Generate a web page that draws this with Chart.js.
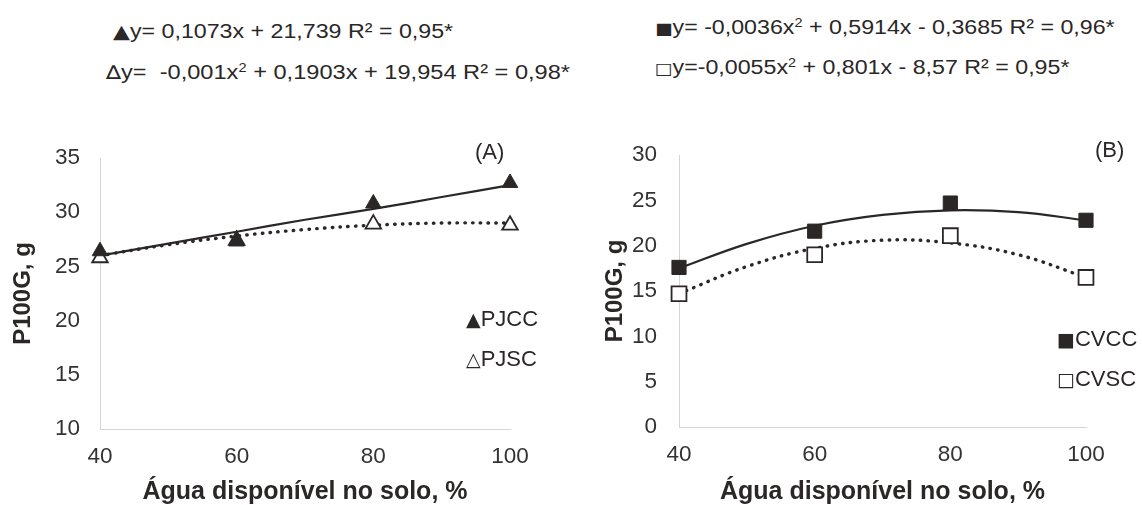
<!DOCTYPE html>
<html>
<head>
<meta charset="utf-8">
<script src="https://cdn.jsdelivr.net/npm/chart.js@4.4.0/dist/chart.umd.min.js"></script>
<style>
  body { margin: 0; background: #fff; }
  #wrap { position: relative; width: 1142px; height: 505px; overflow: hidden; background: #fff; }
  canvas { position: absolute; }
  .txt { position: absolute; font-family: "Liberation Sans", Arial, sans-serif; color: #2b2727; line-height: 1; white-space: pre; }
  .eq { font-size: 20px; transform: scaleX(1.16); transform-origin: left center; }
  .eq2 { transform: scaleX(1.18); }
  .eq sup { font-size: 0.62em; vertical-align: 0.55em; line-height: 0; }
  .leg, .panel { font-size: 22px; }
  .mk { font-family: "DejaVu Sans", sans-serif; line-height: 0; }
</style>
</head>
<body>
<div id="wrap">
  <div class="txt eq" style="left:113px; top:21px;"><span class="mk" style="font-size:19px">▲</span>y= 0,1073x + 21,739 R² = 0,95*</div>
  <div class="txt eq eq2" style="left:106px; top:62px;"><span class="mk" style="font-size:19px">∆</span>y=  -0,001x<sup>2</sup> + 0,1903x + 19,954 R² = 0,98*</div>
  <div class="txt eq" style="left:655px; top:17px;"><span class="mk" style="font-size:16px">■</span>y= -0,0036x<sup>2</sup> + 0,5914x - 0,3685 R² = 0,96*</div>
  <div class="txt eq" style="left:655px; top:57px;"><span class="mk" style="font-size:16px">□</span>y=-0,0055x<sup>2</sup> + 0,801x - 8,57 R² = 0,95*</div>

  <canvas id="chartA" width="565" height="400" style="left:0; top:105px;"></canvas>
  <canvas id="chartB" width="567" height="400" style="left:575px; top:105px;"></canvas>

  <div class="txt panel" style="left:475px; top:141px;">(A)</div>
  <div class="txt panel" style="left:1095px; top:139px;">(B)</div>

  <div class="txt leg" style="left:466px; top:308px;"><span class="mk" style="font-size:19px">▲</span>PJCC</div>
  <div class="txt leg" style="left:466px; top:348px;"><span class="mk" style="font-size:19px">△</span>PJSC</div>
  <div class="txt leg" style="left:1057px; top:328px;"><span class="mk" style="font-size:19px">■</span>CVCC</div>
  <div class="txt leg" style="left:1057px; top:368px;"><span class="mk" style="font-size:19px">□</span>CVSC</div>
</div>
<script>
// observed points
const xValues = [40, 60, 80, 100];
const pjcc = [26.4, 27.3, 30.8, 32.7];
const pjsc = [25.8, 27.4, 28.9, 28.8];
const cvcc = [17.6, 21.6, 24.7, 22.8];
const cvsc = [14.7, 19.0, 21.1, 16.5];

// fitted curves
const trendX = [40, 50, 60, 70, 80, 90, 100];
const pjccTrend = [26.0, 27.1, 28.2, 29.3, 30.3, 31.4, 32.5];
const pjscTrend = [26.0, 27.0, 27.8, 28.4, 28.8, 29.0, 29.0];
const cvccTrend = [17.5, 20.2, 22.2, 23.4, 23.9, 23.7, 22.8];
const cvscTrend = [14.7, 17.7, 19.7, 20.6, 20.3, 19.0, 16.5];

const xTicks = [40, 60, 80, 100];
const yRangeA = [10, 35];
const yRangeB = [0, 30];

const ink = '#2b2727';
const axisColor = '#d4d4d4';
const font = '"Liberation Sans", Arial, sans-serif';

function toXY(xs, ys) {
    return xs.map((x, i) => ({ x: x, y: ys[i] }));
}

function markers(label, ys, style, filled, radius) {
    return {
        label: label,
        data: toXY(xValues, ys),
        showLine: false,
        clip: false,
        pointStyle: style,
        pointRadius: radius,
        pointBackgroundColor: filled ? ink : '#ffffff',
        pointBorderColor: ink,
        pointBorderWidth: filled ? 1 : 1.8
    };
}

function trend(ys, dotted) {
    return {
        data: toXY(trendX, ys),
        showLine: true,
        clip: false,
        borderColor: ink,
        borderWidth: dotted ? 3.4 : 2.2,
        borderDash: dotted ? [0.5, 7.3] : [],
        borderCapStyle: dotted ? 'round' : 'butt',
        tension: 0.4,
        pointRadius: 0,
        fill: false
    };
}

function makeChart(id, datasets, yRange, opts) {
    const ctx = document.getElementById(id).getContext('2d');
    return new Chart(ctx, {
        type: 'scatter',
        data: { datasets: datasets },
        options: {
            responsive: false,
            animation: false,
            devicePixelRatio: 1,
            layout: { padding: { top: opts.padTop, right: opts.padRight, left: 0, bottom: 0 } },
            plugins: { legend: { display: false }, tooltip: { enabled: false } },
            scales: {
                x: {
                    type: 'linear',
                    min: xTicks[0],
                    max: xTicks[xTicks.length - 1],
                    afterBuildTicks: s => { s.ticks = xTicks.map(v => ({ value: v })); },
                    afterFit: s => { s.height = opts.xHeight; },
                    grid: { display: false, drawTicks: false },
                    border: { color: axisColor, width: 1 },
                    ticks: { font: { family: font, size: 22.5 }, color: '#333', padding: 14 },
                    title: {
                        display: true,
                        text: 'Água disponível no solo, %',
                        color: ink,
                        font: { family: font, size: 25, weight: 'bold', lineHeight: 1 },
                        padding: { top: 0, bottom: 0 }
                    }
                },
                y: {
                    min: yRange[0],
                    max: yRange[1],
                    afterFit: s => { s.width = opts.yWidth; },
                    grid: { display: false, drawTicks: false },
                    border: { color: axisColor, width: 1 },
                    ticks: { stepSize: 5, font: { family: font, size: 22.5 }, color: '#333', padding: opts.yTickPad },
                    title: {
                        display: true,
                        text: 'P100G, g',
                        color: ink,
                        font: { family: font, size: 24, weight: 'bold', lineHeight: 1 },
                        padding: { top: opts.yTitlePad, bottom: 0 }
                    }
                }
            }
        }
    });
}

makeChart('chartA', [
    markers('PJCC', pjcc, 'triangle', true, 9),
    markers('PJSC', pjsc, 'triangle', false, 9),
    trend(pjccTrend, false),
    trend(pjscTrend, true)
], yRangeA, { padTop: 53, padRight: 55, xHeight: 76, yWidth: 100, yTickPad: 20, yTitlePad: 11 });

makeChart('chartB', [
    markers('CVCC', cvcc, 'rect', true, 10),
    markers('CVSC', cvsc, 'rect', false, 10.5),
    trend(cvccTrend, false),
    trend(cvscTrend, true)
], yRangeB, { padTop: 50, padRight: 56, xHeight: 78, yWidth: 104, yTickPad: 22, yTitlePad: 28 });
</script>
</body>
</html>
